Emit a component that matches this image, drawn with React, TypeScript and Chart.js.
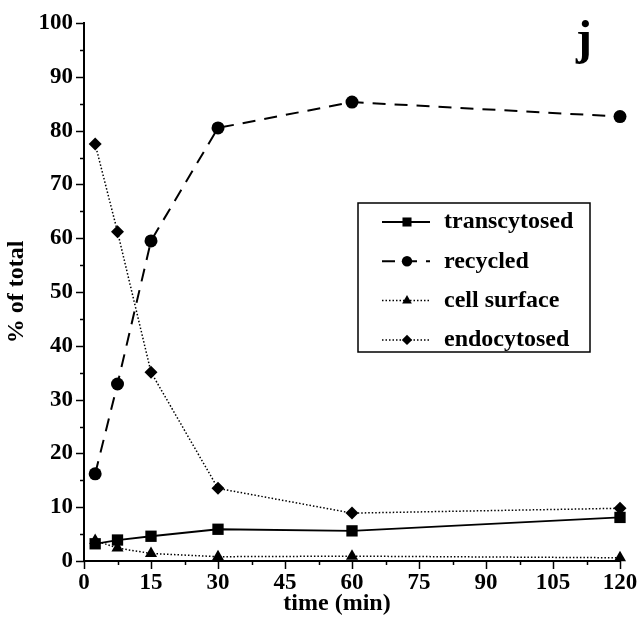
import React, { useEffect, useRef } from "react";
import { Chart, registerables } from "chart.js";

Chart.register(...registerables);

const times = [2.5, 7.5, 15, 30, 60, 120];
const transcytosed = [3.2, 3.9, 4.6, 5.9, 5.6, 8.1];
const recycled = [16.2, 32.9, 59.5, 80.5, 85.3, 82.6];
const cellSurface = [3.8, 2.4, 1.4, 0.8, 0.9, 0.6];
const endocytosed = [77.5, 61.2, 35.1, 13.5, 8.9, 9.8];

const seriesNames = ["transcytosed", "recycled", "cell surface", "endocytosed"];
const panelLabel = "j";
const xTitle = "time (min)";
const yTitle = "% of total";

const FONT = "'Liberation Serif', 'Times New Roman', serif";

const pts = (vals: number[]) => times.map((t, i) => ({ x: t, y: vals[i] }));

function drawMarker(ctx: CanvasRenderingContext2D, style: string, x: number, y: number, r: number) {
  ctx.beginPath();
  if (style === "rect") {
    const s = Math.SQRT1_2 * r;
    ctx.rect(x - s, y - s, 2 * s, 2 * s);
  } else if (style === "circle") {
    ctx.arc(x, y, r, 0, Math.PI * 2);
  } else if (style === "triangle") {
    ctx.moveTo(x, y - r);
    ctx.lineTo(x + r * 0.866, y + r * 0.5);
    ctx.lineTo(x - r * 0.866, y + r * 0.5);
    ctx.closePath();
  } else {
    ctx.moveTo(x, y - r);
    ctx.lineTo(x + r, y);
    ctx.lineTo(x, y + r);
    ctx.lineTo(x - r, y);
    ctx.closePath();
  }
  ctx.fill();
}

const ticksPlugin = {
  id: "customTicks",
  afterDraw(chart: any) {
    const ctx = chart.ctx;
    const xs = chart.scales.x;
    const ys = chart.scales.y;
    const area = chart.chartArea;
    ctx.save();
    ctx.strokeStyle = "#000";
    ctx.lineWidth = 1.5;
    ys.ticks.forEach((t: any) => {
      const py = Math.round(ys.getPixelForValue(t.value)) + 0.5;
      const len = t.value % 10 === 0 ? 8 : 4;
      ctx.beginPath();
      ctx.moveTo(area.left - len, py);
      ctx.lineTo(area.left, py);
      ctx.stroke();
    });
    xs.ticks.forEach((t: any) => {
      const px = Math.round(xs.getPixelForValue(t.value)) + 0.5;
      const len = t.value % 15 === 0 ? 8 : 4;
      ctx.beginPath();
      ctx.moveTo(px, area.bottom);
      ctx.lineTo(px, area.bottom + len);
      ctx.stroke();
    });
    ctx.fillStyle = "#000";
    // panel label
    ctx.font = `bold 48px ${FONT}`;
    ctx.textAlign = "center";
    ctx.textBaseline = "alphabetic";
    ctx.fillText(panelLabel, 584, 54);
    // axis titles
    ctx.font = `bold 24px ${FONT}`;
    ctx.textBaseline = "middle";
    ctx.fillText(xTitle, 337, 604);
    ctx.translate(17, 292);
    ctx.rotate(-Math.PI / 2);
    ctx.fillText(yTitle, 0, 0);
    ctx.restore();
  },
};

const legendPlugin = {
  id: "customLegend",
  afterDraw(chart: any) {
    const ctx = chart.ctx;
    const bx = 358, by = 203, bw = 232, bh = 149;
    ctx.save();
    ctx.fillStyle = "#fff";
    ctx.fillRect(bx, by, bw, bh);
    ctx.strokeStyle = "#000";
    ctx.lineWidth = 1.5;
    ctx.strokeRect(bx, by, bw, bh);
    chart.data.datasets.forEach((ds: any, i: number) => {
      const cy = 222 + i * 39.3;
      ctx.strokeStyle = "#000";
      ctx.lineWidth = ds.borderWidth;
      ctx.setLineDash(ds.borderDash || []);
      ctx.beginPath();
      ctx.moveTo(382, cy);
      ctx.lineTo(430, cy);
      ctx.stroke();
      ctx.setLineDash([]);
      ctx.fillStyle = "#000";
      drawMarker(ctx, ds.pointStyle, 407, cy, ds.pointRadius * 0.8);
      ctx.font = `bold 24px ${FONT}`;
      ctx.textAlign = "left";
      ctx.textBaseline = "middle";
      ctx.fillText(ds.label, 444, cy);
    });
    ctx.restore();
  },
};

export default function App() {
  const ref = useRef<HTMLCanvasElement>(null);
  useEffect(() => {
    if (!ref.current) return;
    const common = {
      borderColor: "#000",
      backgroundColor: "#000",
      pointBackgroundColor: "#000",
      pointBorderColor: "#000",
      pointBorderWidth: 0,
      tension: 0,
      fill: false,
      clip: false,
    };
    const chart = new Chart(ref.current, {
      type: "line",
      data: {
        datasets: [
          { ...common, label: seriesNames[0], data: pts(transcytosed), borderWidth: 1.8, pointStyle: "rect", pointRadius: 8, borderDash: [] },
          { ...common, label: seriesNames[1], data: pts(recycled), borderWidth: 2, pointStyle: "circle", pointRadius: 6.5, borderDash: [13, 9] },
          { ...common, label: seriesNames[2], data: pts(cellSurface), borderWidth: 1.5, pointStyle: "triangle", pointRadius: 7, borderDash: [1.5, 2] },
          { ...common, label: seriesNames[3], data: pts(endocytosed), borderWidth: 1.5, pointStyle: "rectRot", pointRadius: 6.5, borderDash: [1.5, 2] },
        ] as any,
      },
      options: {
        responsive: false,
        animation: false,
        layout: { padding: { top: 23, right: 20, left: 0, bottom: 0 } },
        plugins: { legend: { display: false }, tooltip: { enabled: false } },
        scales: {
          x: {
            type: "linear",
            min: 0,
            max: 120,
            afterFit: (s: any) => { s.height = 61; },
            ticks: {
              stepSize: 7.5,
              autoSkip: false,
              maxRotation: 0,
              color: "#000",
              padding: 0,
              font: { family: FONT, size: 23, weight: "bold" },
              callback: (v: any) => (Number(v) % 15 === 0 ? String(v) : ""),
            },
            grid: { display: true, drawOnChartArea: false, drawTicks: true, tickLength: 8, tickColor: "transparent" },
            border: { display: true, color: "#000", width: 2 },
          },
          y: {
            type: "linear",
            min: 0,
            max: 100,
            afterFit: (s: any) => { s.width = 84; },
            ticks: {
              stepSize: 5,
              autoSkip: false,
              color: "#000",
              padding: 3,
              font: { family: FONT, size: 23, weight: "bold" },
              callback: (v: any) => (Number(v) % 10 === 0 ? String(v) : ""),
            },
            grid: { display: true, drawOnChartArea: false, drawTicks: true, tickLength: 8, tickColor: "transparent" },
            border: { display: true, color: "#000", width: 2 },
          },
        },
      } as any,
      plugins: [ticksPlugin, legendPlugin],
    });
    return () => chart.destroy();
  }, []);
  return (
    <div style={{ position: "fixed", left: 0, top: 0, width: 640, height: 622, background: "#fff" }}>
      <canvas ref={ref} width={640} height={622} style={{ display: "block" }} />
    </div>
  );
}
